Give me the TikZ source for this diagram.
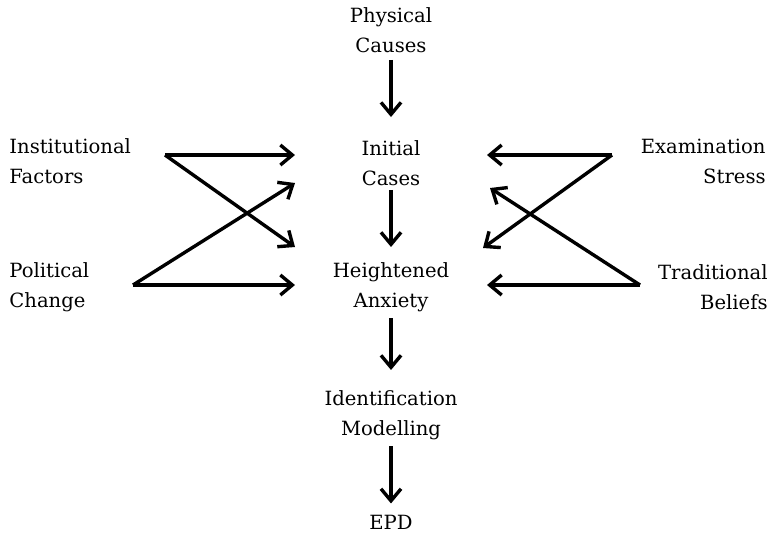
\documentclass[tikz,border=0pt]{standalone}
\usepackage{fontspec}
\setmainfont{DejaVu Serif}
\usetikzlibrary{arrows.meta}
\begin{document}
\begin{tikzpicture}[x=0.5pt,y=-0.5pt,
  every node/.style={font=\fontsize{9.8}{15}\selectfont, inner sep=2pt},
  flow/.style={draw, line width=1.7pt, -{Straight Barb[length=6pt,width=10pt]}}]
\useasboundingbox (0,0) rectangle (774,538);
% central chain
\node[align=center] (phys)  at (391,30)  {Physical\\Causes};
\node[align=center] (init)  at (391,163) {Initial\\Cases};
\node[align=center] (anx)   at (391,287) {Heightened\\Anxiety};
\node[align=center] (ident) at (391,415) {Identification\\Modelling};
\node[align=center] (epd)   at (391,522) {EPD};
% side factors
\node[align=left,anchor=west]  (inst)  at (5,161)   {Institutional\\Factors};
\node[align=left,anchor=west]  (polit) at (5,287)   {Political\\Change};
\node[align=right,anchor=east] (exam)  at (770,161) {Examination\\Stress};
\node[align=right,anchor=east] (trad)  at (772,287) {Traditional\\Beliefs};
% hubs and targets
\coordinate (instHub)  at (165,155);
\coordinate (politHub) at (133,285);
\coordinate (examHub)  at (612,155);
\coordinate (tradHub)  at (640,285);
\coordinate (initL)  at (295,155);
\coordinate (initLd) at (295,183);
\coordinate (anxLu)  at (295,247);
\coordinate (anxL)   at (295,285);
\coordinate (initR)  at (487,155);
\coordinate (initRd) at (490,188);
\coordinate (anxRu)  at (483,248);
\coordinate (anxR)   at (487,285);
%
\draw[flow] (instHub) -- (initL);
\draw[flow] (instHub) -- (anxLu);
\draw[flow] (politHub) -- (initLd);
\draw[flow] (politHub) -- (anxL);
\draw[flow] (examHub) -- (initR);
\draw[flow] (examHub) -- (anxRu);
\draw[flow] (tradHub) -- (initRd);
\draw[flow] (tradHub) -- (anxR);
%
\draw[flow, shorten <=1.5pt, shorten >=9.5pt] (phys) -- (init);
\draw[flow, shorten <=0pt, shorten >=5.5pt] (init) -- (anx);
\draw[flow, shorten <=1pt, shorten >=8pt] (anx) -- (ident);
\draw[flow, shorten <=1pt, shorten >=3.5pt] (ident) -- (epd);
\end{tikzpicture}
\end{document}
